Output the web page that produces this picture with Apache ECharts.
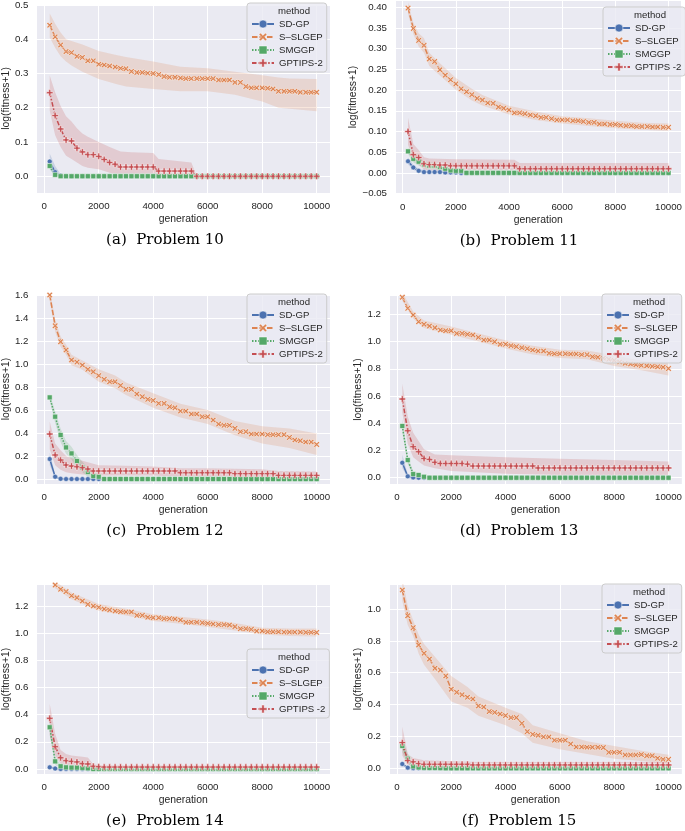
<!DOCTYPE html>
<html>
<head>
<meta charset="utf-8">
<script src="https://cdn.jsdelivr.net/npm/echarts@6/dist/echarts.min.js"></script>
<style>
  html, body { margin: 0; padding: 0; background: #fff; }
  #chart { width: 685px; height: 831px; }
</style>
</head>
<body>
<div id="chart"></div>
<script>
// generations sampled every 200
const gens = [200,400,600,800,1000,1200,1400,1600,1800,2000,2200,2400,2600,2800,3000,3200,3400,3600,3800,4000,
  4200,4400,4600,4800,5000,5200,5400,5600,5800,6000,6200,6400,6600,6800,7000,7200,7400,7600,7800,8000,
  8200,8400,8600,8800,9000,9200,9400,9600,9800,10000];

const methods = ['SD-GP', 'S–SLGEP', 'SMGGP', 'GPTIPS-2'];
const methodsAlt = ['SD-GP', 'S–SLGEP', 'SMGGP', 'GPTIPS -2'];
const captions = ['(a)  Problem 10', '(b)  Problem 11', '(c)  Problem 12', '(d)  Problem 13', '(e)  Problem 14', '(f)  Problem 15'];

// ---- Problem 10 ----
const p10SdGp = [0.043,0.012,0.002,0,0,0,0,0,0,0, 0,0,0,0,0,0,0,0,0,0, 0,0,0,0,0,0,0,0,0,0, 0,0,0,0,0,0,0,0,0,0, 0,0,0,0,0,0,0,0,0,0];
const p10SSlgep = [0.441,0.407,0.383,0.364,0.361,0.350,0.347,0.337,0.337,0.327, 0.325,0.322,0.319,0.315,0.314,0.306,0.303,0.303,0.301,0.300,
  0.297,0.291,0.289,0.289,0.287,0.285,0.285,0.285,0.285,0.285, 0.285,0.281,0.281,0.281,0.274,0.274,0.262,0.258,0.258,0.258,
  0.257,0.255,0.248,0.248,0.248,0.248,0.245,0.245,0.245,0.245];
const p10Smggp = [0.030,0.004,0,0,0,0,0,0,0,0, 0,0,0,0,0,0,0,0,0,0, 0,0,0,0,0,0,0,0,0,0, 0,0,0,0,0,0,0,0,0,0, 0,0,0,0,0,0,0,0,0,0];
const p10Gptips = [0.244,0.177,0.138,0.106,0.103,0.082,0.071,0.063,0.063,0.058, 0.049,0.040,0.035,0.027,0.027,0.027,0.027,0.027,0.027,0.027,
  0.015,0.015,0.015,0.015,0.015,0.015,0.015,0,0,0, 0,0,0,0,0,0,0,0,0,0, 0,0,0,0,0,0,0,0,0,0];
// bands: [generation, lower, upper]
const p10SdGpBand = [[200,0.022,0.066],[400,0.0,0.030],[600,0,0.006],[800,0,0]];
const p10SSlgepBand = [[200,0.405,0.475],[400,0.375,0.445],[600,0.350,0.420],[800,0.335,0.400],[1000,0.323,0.395],[1400,0.305,0.385],
  [2000,0.284,0.366],[2600,0.270,0.355],[3000,0.262,0.348],[4000,0.255,0.335],[5000,0.248,0.320],[6000,0.248,0.315],[7000,0.238,0.305],
  [8000,0.218,0.295],[8600,0.200,0.288],[9000,0.197,0.285],[10000,0.190,0.284]];
const p10SmggpBand = [[200,0.020,0.040],[400,0.0,0.010],[600,0,0]];
const p10GptipsBand = [[200,0.192,0.294],[400,0.120,0.245],[600,0.085,0.205],[800,0.060,0.175],[1000,0.050,0.160],[1200,0.040,0.140],
  [1400,0.030,0.125],[1600,0.025,0.115],[2000,0.020,0.100],[2400,0.010,0.085],[2800,0.003,0.072],[3200,0,0.070],[4000,0,0.068],
  [4200,0,0.050],[5400,0,0.040],[5600,0,0],[10000,0,0]];

// ---- Problem 11 ----
const p11SdGp = [0.028,0.013,0.005,0.002,0.002,0.002,0.002,0.001,0.001,0.001, 0,0,0,0,0,0,0,0,0,0, 0,0,0,0,0,0,0,0,0,0, 0,0,0,0,0,0,0,0,0,0, 0,0,0,0,0,0,0,0,0,0];
const p11SSlgep = [0.398,0.349,0.320,0.308,0.275,0.269,0.249,0.236,0.225,0.215, 0.203,0.196,0.189,0.180,0.176,0.169,0.168,0.159,0.156,0.152,
  0.145,0.145,0.143,0.140,0.138,0.134,0.134,0.131,0.128,0.128, 0.128,0.126,0.126,0.124,0.122,0.122,0.118,0.118,0.117,0.117,
  0.115,0.114,0.114,0.112,0.112,0.112,0.111,0.111,0.110,0.110];
const p11Smggp = [0.052,0.034,0.027,0.020,0.017,0.017,0.014,0.010,0.006,0.005, 0.005,0,0,0,0,0,0,0,0,0, 0,0,0,0,0,0,0,0,0,0, 0,0,0,0,0,0,0,0,0,0, 0,0,0,0,0,0,0,0,0,0];
const p11Gptips = [0.100,0.044,0.037,0.022,0.020,0.020,0.019,0.019,0.017,0.017, 0.017,0.017,0.017,0.017,0.017,0.017,0.017,0.017,0.017,0.017,
  0.017,0.010,0.010,0.010,0.010,0.010,0.010,0.010,0.010,0.010, 0.010,0.010,0.010,0.010,0.010,0.010,0.010,0.010,0.010,0.010,
  0.010,0.010,0.010,0.010,0.010,0.010,0.010,0.010,0.010,0.010];
const p11SdGpBand = [[200,0.020,0.037],[400,0.007,0.020],[600,0.001,0.010],[1000,0,0.004],[2000,0,0.001]];
const p11SSlgepBand = [[200,0.385,0.412],[400,0.335,0.363],[600,0.305,0.337],[800,0.290,0.325],[1000,0.258,0.290],[1400,0.235,0.265],
  [2000,0.201,0.229],[2600,0.175,0.203],[3000,0.163,0.188],[4000,0.141,0.162],[5000,0.128,0.148],[6000,0.119,0.137],[7000,0.113,0.132],
  [8000,0.108,0.126],[9000,0.104,0.121],[10000,0.101,0.119]];
const p11SmggpBand = [[200,0.045,0.060],[400,0.025,0.043],[600,0.018,0.036],[800,0.012,0.028],[1200,0.010,0.024],[1600,0.004,0.016],
  [2000,0.001,0.009],[2400,0,0.001]];
const p11GptipsBand = [[200,0.068,0.133],[400,0.028,0.070],[600,0.020,0.055],[800,0.008,0.038],[1000,0.005,0.035],[2000,0.003,0.033],
  [4200,0.002,0.032],[4400,-0.002,0.024],[10000,-0.002,0.024]];

// ---- Problem 12 ----
const p12SdGp = [0.174,0.020,0.002,0,0,0,0,0,0,0, 0,0,0,0,0,0,0,0,0,0, 0,0,0,0,0,0,0,0,0,0, 0,0,0,0,0,0,0,0,0,0, 0,0,0,0,0,0,0,0,0,0];
const p12SSlgep = [1.600,1.333,1.194,1.122,1.035,1.017,0.991,0.954,0.933,0.899, 0.867,0.846,0.846,0.814,0.780,0.780,0.739,0.716,0.693,0.684,
  0.658,0.658,0.629,0.620,0.591,0.591,0.565,0.565,0.542,0.542, 0.513,0.478,0.467,0.467,0.441,0.412,0.412,0.391,0.391,0.391,
  0.386,0.386,0.386,0.386,0.362,0.339,0.333,0.322,0.322,0.301];
const p12Smggp = [0.710,0.542,0.383,0.275,0.223,0.157,0.100,0.061,0.026,0.020, 0,0,0,0,0,0,0,0,0,0, 0,0,0,0,0,0,0,0,0,0, 0,0,0,0,0,0,0,0,0,0, 0,0,0,0,0,0,0,0,0,0];
const p12Gptips = [0.391,0.209,0.165,0.122,0.113,0.107,0.099,0.087,0.070,0.070, 0.070,0.070,0.070,0.070,0.070,0.070,0.070,0.070,0.070,0.070,
  0.070,0.070,0.070,0.070,0.055,0.055,0.055,0.055,0.055,0.055, 0.055,0.055,0.055,0.055,0.047,0.047,0.047,0.047,0.047,0.047,
  0.047,0.047,0.032,0.032,0.032,0.032,0.032,0.032,0.032,0.032];
const p12SdGpBand = [[200,0.120,0.230],[400,0.005,0.040],[600,0,0.005],[800,0,0]];
const p12SSlgepBand = [[200,1.55,1.65],[400,1.28,1.39],[600,1.15,1.24],[800,1.08,1.17],[1000,0.99,1.08],[1400,0.95,1.03],[2000,0.846,0.954],
  [2600,0.79,0.90],[3000,0.73,0.84],[4000,0.62,0.745],[5000,0.535,0.655],[6000,0.478,0.60],[7000,0.38,0.505],[8000,0.31,0.46],
  [9000,0.27,0.44],[10000,0.209,0.397]];
const p12SmggpBand = [[200,0.68,0.74],[400,0.49,0.59],[600,0.32,0.44],[800,0.22,0.33],[1000,0.17,0.28],[1200,0.10,0.21],[1400,0.06,0.15],
  [1600,0.02,0.10],[1800,0,0.06],[2000,0,0.04],[2200,0,0]];
const p12GptipsBand = [[200,0.26,0.50],[400,0.12,0.31],[600,0.08,0.25],[800,0.06,0.20],[1000,0.05,0.18],[1400,0.04,0.16],[2000,0.03,0.12],
  [3000,0.03,0.115],[4000,0.03,0.11],[5000,0.02,0.095],[6000,0.015,0.095],[7000,0.01,0.09],[8000,0.01,0.085],[8600,0,0.07],[10000,0,0.065]];

// ---- Problem 13 ----
const p13SdGp = [0.110,0.010,0.002,0,0,0,0,0,0,0, 0,0,0,0,0,0,0,0,0,0, 0,0,0,0,0,0,0,0,0,0, 0,0,0,0,0,0,0,0,0,0, 0,0,0,0,0,0,0,0,0,0];
const p13SSlgep = [1.325,1.244,1.195,1.146,1.127,1.114,1.102,1.085,1.080,1.080, 1.060,1.060,1.053,1.048,1.031,1.012,1.012,0.999,0.980,0.980,
  0.970,0.963,0.955,0.948,0.938,0.931,0.931,0.914,0.911,0.911, 0.911,0.909,0.909,0.904,0.904,0.889,0.885,0.878,0.870,0.862,
  0.850,0.840,0.835,0.830,0.825,0.822,0.818,0.815,0.812,0.802];
const p13Smggp = [0.380,0.130,0.027,0.020,0.007,0,0,0,0,0, 0,0,0,0,0,0,0,0,0,0, 0,0,0,0,0,0,0,0,0,0, 0,0,0,0,0,0,0,0,0,0, 0,0,0,0,0,0,0,0,0,0];
const p13Gptips = [0.578,0.345,0.228,0.191,0.142,0.135,0.113,0.105,0.105,0.105, 0.105,0.105,0.100,0.086,0.086,0.086,0.086,0.086,0.086,0.086,
  0.086,0.086,0.086,0.086,0.086,0.072,0.072,0.072,0.072,0.072, 0.072,0.072,0.072,0.072,0.072,0.072,0.072,0.072,0.072,0.072,
  0.072,0.072,0.072,0.072,0.072,0.072,0.072,0.072,0.072,0.072];
const p13SdGpBand = [[200,0.07,0.17],[400,0,0.025],[600,0,0.005],[800,0,0]];
const p13SSlgepBand = [[200,1.30,1.36],[600,1.17,1.22],[1000,1.10,1.155],[2000,1.05,1.11],[3000,1.00,1.06],[4000,0.95,1.01],[5000,0.905,0.97],
  [6000,0.88,0.94],[7000,0.87,0.935],[8000,0.82,0.90],[9000,0.79,0.86],[10000,0.75,0.84]];
const p13SmggpBand = [[200,0.33,0.43],[400,0.10,0.16],[600,0.01,0.045],[800,0.005,0.035],[1000,0,0.015],[1200,0,0.002]];
const p13GptipsBand = [[200,0.48,0.69],[400,0.25,0.45],[600,0.15,0.33],[800,0.12,0.27],[1000,0.09,0.21],[1400,0.07,0.17],[2000,0.05,0.165],
  [4000,0.03,0.15],[6000,0.02,0.14],[8000,0.02,0.13],[10000,0.02,0.12]];

// ---- Problem 14 ----
const p14SdGp = [0.012,0.003,0,0,0,0,0,0,0,0, 0,0,0,0,0,0,0,0,0,0, 0,0,0,0,0,0,0,0,0,0, 0,0,0,0,0,0,0,0,0,0, 0,0,0,0,0,0,0,0,0,0];
const p14SSlgep = [1.420,1.355,1.323,1.306,1.276,1.261,1.237,1.212,1.200,1.190, 1.178,1.171,1.163,1.158,1.156,1.156,1.131,1.131,1.117,1.114,
  1.114,1.107,1.107,1.104,1.097,1.080,1.080,1.080,1.077,1.072, 1.067,1.063,1.063,1.060,1.048,1.033,1.033,1.028,1.016,1.016,
  1.010,1.010,1.010,1.008,1.008,1.008,1.008,1.006,1.006,1.005];
const p14Smggp = [0.307,0.056,0.020,0.012,0.010,0.010,0.008,0.005,0,0, 0,0,0,0,0,0,0,0,0,0, 0,0,0,0,0,0,0,0,0,0, 0,0,0,0,0,0,0,0,0,0, 0,0,0,0,0,0,0,0,0,0];
const p14Gptips = [0.373,0.164,0.083,0.061,0.056,0.052,0.039,0.037,0.020,0.017, 0.014,0.014,0.014,0.014,0.014,0.014,0.014,0.014,0.014,0.014,
  0.014,0.014,0.014,0.014,0.014,0.014,0.014,0.014,0.014,0.014, 0.014,0.014,0.014,0.014,0.014,0.014,0.014,0.014,0.014,0.014,
  0.014,0.014,0.014,0.014,0.014,0.014,0.014,0.014,0.014,0.014];
const p14SdGpBand = [[200,0,0.025],[400,0,0.008],[600,0,0]];
const p14SSlgepBand = [[200,1.39,1.45],[400,1.33,1.38],[1000,1.25,1.30],[2000,1.165,1.215],[3000,1.13,1.18],[4000,1.09,1.14],[5000,1.07,1.12],
  [6000,1.045,1.10],[7000,1.02,1.075],[8000,0.99,1.04],[9000,0.98,1.035],[10000,0.975,1.035]];
const p14SmggpBand = [[200,0.25,0.36],[400,0.03,0.09],[600,0.01,0.03],[1000,0.004,0.016],[1600,0,0.01],[1800,0,0]];
const p14GptipsBand = [[200,0.25,0.48],[400,0.10,0.26],[600,0.04,0.14],[800,0.025,0.11],[1000,0.02,0.10],[1400,0.01,0.09],[1600,0.01,0.085],
  [1800,0.005,0.035],[2000,0.005,0.030],[10000,0.005,0.025]];

// ---- Problem 15 ----
const p15SdGp = [0.027,0.004,0,0,0,0,0,0,0,0, 0,0,0,0,0,0,0,0,0,0, 0,0,0,0,0,0,0,0,0,0, 0,0,0,0,0,0,0,0,0,0, 0,0,0,0,0,0,0,0,0,0];
const p15SSlgep = [1.119,0.958,0.883,0.774,0.722,0.686,0.628,0.617,0.580,0.496, 0.477,0.462,0.446,0.435,0.391,0.385,0.356,0.351,0.341,0.331,
  0.318,0.318,0.282,0.230,0.213,0.207,0.197,0.197,0.176,0.176, 0.176,0.153,0.134,0.134,0.132,0.132,0.132,0.130,0.100,0.100,
  0.100,0.084,0.084,0.084,0.086,0.079,0.079,0.063,0.056,0.056];
const p15Smggp = [0.140,0.060,0.012,0.005,0.003,0.002,0.002,0.001,0,0, 0,0,0,0,0,0,0,0,0,0, 0,0,0,0,0,0,0,0,0,0, 0,0,0,0,0,0,0,0,0,0, 0,0,0,0,0,0,0,0,0,0];
const p15Gptips = [0.161,0.048,0.040,0.029,0.025,0.025,0.025,0.025,0.025,0.025, 0.025,0.025,0.025,0.021,0.021,0.021,0.021,0.021,0.021,0.021,
  0.021,0.021,0.021,0.021,0.021,0.021,0.021,0.021,0.021,0.021, 0.021,0.021,0.021,0.021,0.021,0.021,0.021,0.021,0.021,0.021,
  0.021,0.021,0.021,0.021,0.021,0.021,0.021,0.021,0.021,0.021];
const p15SdGpBand = [[200,0.015,0.040],[400,0,0.010],[600,0,0]];
const p15SSlgepBand = [[200,1.05,1.19],[400,0.90,1.02],[600,0.83,0.93],[800,0.72,0.84],[1000,0.65,0.78],[1400,0.56,0.70],[2000,0.42,0.58],
  [2600,0.38,0.51],[3000,0.33,0.45],[4000,0.27,0.38],[4600,0.22,0.34],[5000,0.16,0.27],[6000,0.12,0.22],[7000,0.09,0.17],[8000,0.06,0.14],
  [9000,0.045,0.11],[10000,0.03,0.085]];
const p15SmggpBand = [[200,0.10,0.19],[400,0.03,0.09],[600,0,0.03],[1000,0,0.008],[1600,0,0.002]];
const p15GptipsBand = [[200,0.08,0.26],[400,0.02,0.09],[600,0.01,0.065],[1000,0.005,0.05],[3000,0.005,0.04],[10000,0.005,0.04]];

// ---- layout / styling ----
const colors = ['#4c72b0', '#dd8452', '#55a868', '#c44e52'];
const markX = 'path://M0,2 L2,0 L5,3 L8,0 L10,2 L7,5 L10,8 L8,10 L5,7 L2,10 L0,8 L3,5 Z';
const markPlus = 'path://M3.5,0 H6.5 V3.5 H10 V6.5 H6.5 V10 H3.5 V6.5 H0 V3.5 H3.5 Z';
const symbols = ['circle', markX, 'rect', markPlus];
const symbolSizes = [5, 6, 5, 6.5];
const dashes = ['solid', [5.5, 2], [1.5, 1.5], [4.5, 1.9, 1.5, 1.9]];
const sans = '"Liberation Sans", Arial, sans-serif';

const panels = [
  { names: methods,    means: [p10SdGp, p10SSlgep, p10Smggp, p10Gptips], bands: [p10SdGpBand, p10SSlgepBand, p10SmggpBand, p10GptipsBand],
    grid: [35, 3, 295, 190], y: [-0.049, 0.503, 5, 0.1, 1], yGap: 22, legend: [247, 3], cap: [165, 240] },
  { names: methodsAlt, means: [p11SdGp, p11SSlgep, p11Smggp, p11Gptips], bands: [p11SdGpBand, p11SSlgepBand, p11SmggpBand, p11GptipsBand],
    grid: [395, 0, 290, 194], y: [-0.051, 0.4176, 9, 0.05, 2], yGap: 33, legend: [603, 7], cap: [519, 241] },
  { names: methods,    means: [p12SdGp, p12SSlgep, p12Smggp, p12Gptips], bands: [p12SdGpBand, p12SSlgepBand, p12SmggpBand, p12GptipsBand],
    grid: [35, 294, 295, 190], y: [-0.043, 1.609, 8, 0.2, 1], yGap: 22, legend: [247, 294], cap: [165, 531] },
  { names: methods,    means: [p13SdGp, p13SSlgep, p13Smggp, p13Gptips], bands: [p13SdGpBand, p13SSlgepBand, p13SmggpBand, p13GptipsBand],
    grid: [389, 295, 298, 189], y: [-0.046, 1.342, 7, 0.2, 1], yGap: 22, legend: [602, 294], cap: [519, 531] },
  { names: methodsAlt, means: [p14SdGp, p14SSlgep, p14Smggp, p14Gptips], bands: [p14SdGpBand, p14SSlgepBand, p14SmggpBand, p14GptipsBand],
    grid: [35, 584, 295, 190], y: [-0.037, 1.362, 7, 0.2, 1], yGap: 22, legend: [247, 649], cap: [165, 821] },
  { names: methods,    means: [p15SdGp, p15SSlgep, p15Smggp, p15Gptips], bands: [p15SdGpBand, p15SSlgepBand, p15SmggpBand, p15GptipsBand],
    grid: [389, 584, 298, 190], y: [-0.036, 1.157, 6, 0.2, 1], yGap: 22, legend: [602, 584], cap: [519, 821] }
];

function yFormatter(step, digits) {
  return function (v) {
    const r = Math.round(v / step) * step;
    if (Math.abs(v - r) > step * 1e-3) return '';
    if (Math.abs(r) < 1e-9) return (0).toFixed(digits);
    return r < 0 ? '\u2212' + (-r).toFixed(digits) : r.toFixed(digits);
  };
}

// draws one confidence band as a polygon through the axis scales
function bandRenderer(band, color) {
  return function (params, api) {
    if (params.dataIndex !== 0) return;
    const upper = band.map(function (b) { return api.coord([b[0], b[2]]); });
    const lower = band.map(function (b) { return api.coord([b[0], b[1]]); }).reverse();
    const cs = params.coordSys;
    return {
      type: 'polygon',
      shape: { points: upper.concat(lower) },
      style: { fill: color, opacity: 0.2 },
      clipPath: { type: 'rect', shape: { x: cs.x, y: cs.y, width: cs.width, height: cs.height } }
    };
  };
}

const grids = [], xAxes = [], yAxes = [], legends = [], series = [], graphics = [];

panels.forEach(function (p, k) {
  grids.push({
    left: p.grid[0], top: p.grid[1], width: p.grid[2], height: p.grid[3],
    show: true, backgroundColor: '#eaeaf2', borderWidth: 0
  });
  xAxes.push({
    type: 'value', gridIndex: k, min: -290, max: 10490, splitNumber: 5,
    axisLine: { show: false }, axisTick: { show: false },
    splitLine: { lineStyle: { color: '#ffffff', width: 1 } },
    axisLabel: {
      margin: 8, fontSize: 9.7, color: '#262626', fontFamily: sans,
      formatter: function (v) { return Math.abs(v / 2000 - Math.round(v / 2000)) < 1e-6 ? String(Math.round(v)) : ''; }
    },
    name: 'generation', nameLocation: 'middle', nameGap: 21,
    nameTextStyle: { fontSize: 10.4, color: '#262626', fontFamily: sans }
  });
  yAxes.push({
    type: 'value', gridIndex: k, min: p.y[0], max: p.y[1], splitNumber: p.y[2],
    axisLine: { show: false }, axisTick: { show: false },
    splitLine: { lineStyle: { color: '#ffffff', width: 1 } },
    axisLabel: { margin: 8, fontSize: 9.7, color: '#262626', fontFamily: sans, formatter: yFormatter(p.y[3], p.y[4]) },
    name: 'log(fitness+1)', nameLocation: 'middle', nameGap: p.yGap,
    nameTextStyle: { fontSize: 10.4, color: '#262626', fontFamily: sans }
  });

  // confidence bands
  p.bands.forEach(function (band, j) {
    series.push({
      type: 'custom', name: 'band-' + k + '-' + j, xAxisIndex: k, yAxisIndex: k,
      data: band, encode: { x: 0, y: [1, 2] },
      renderItem: bandRenderer(band, colors[j]),
      silent: true, z: 1
    });
  });

  // mean lines
  p.means.forEach(function (vals, j) {
    series.push({
      type: 'line', name: p.names[j], xAxisIndex: k, yAxisIndex: k,
      data: gens.map(function (g, i) { return [g, vals[i]]; }),
      symbol: symbols[j], symbolSize: symbolSizes[j], showAllSymbol: true,
      lineStyle: { color: colors[j], width: 1.5, type: dashes[j] },
      itemStyle: { color: colors[j], borderColor: '#ffffff', borderWidth: 0.5 },
      z: 2
    });
  });

  legends.push({
    left: p.legend[0], top: p.legend[1], orient: 'vertical', data: p.names,
    padding: [16, 4, 4, 4], itemWidth: 22, itemHeight: 10, itemGap: 3,
    itemStyle: { borderWidth: 0.5 },
    textStyle: { fontSize: 9.6, color: '#262626', fontFamily: sans },
    backgroundColor: 'rgba(234,234,242,0.8)', borderColor: '#cccccc', borderWidth: 1, borderRadius: 3,
    selectedMode: false
  });

  graphics.push({
    type: 'text', left: p.legend[0] + 31, top: p.legend[1] + 3, z: 10,
    style: { text: 'method', font: '9.6px ' + sans, fill: '#262626' }
  });
  graphics.push({
    type: 'text', x: p.cap[0], y: p.cap[1],
    style: { text: captions[k], font: '15px "DejaVu Serif", serif', fill: '#000', textAlign: 'center', textVerticalAlign: 'middle' }
  });
});

const chart = echarts.init(document.getElementById('chart'), null, { renderer: 'canvas' });
chart.setOption({
  animation: false,
  backgroundColor: '#ffffff',
  grid: grids,
  xAxis: xAxes,
  yAxis: yAxes,
  legend: legends,
  series: series,
  graphic: graphics
});
</script>
</body>
</html>
